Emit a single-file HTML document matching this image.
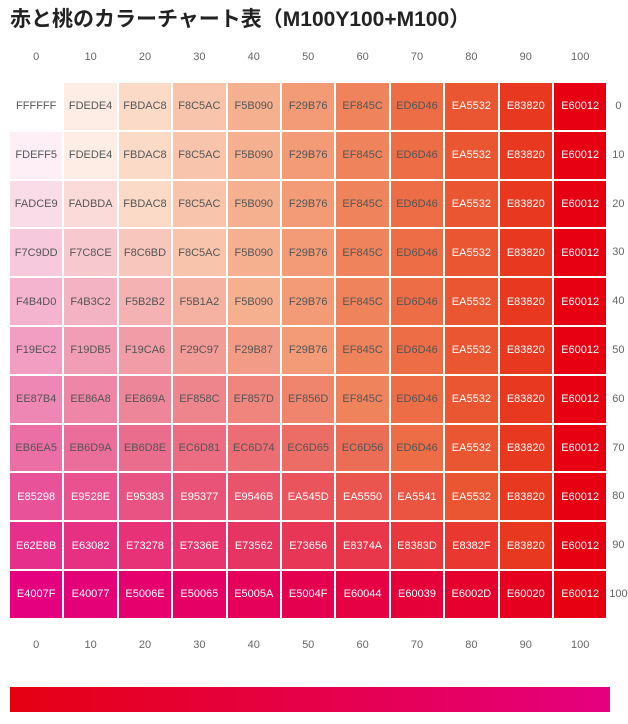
<!DOCTYPE html><html><head><meta charset="utf-8"><style>
body{margin:0;width:628px;height:724px;background:#fff;font-family:"Liberation Sans","Noto Sans CJK JP",sans-serif;position:relative;overflow:hidden}
h1{position:absolute;left:10px;top:3px;margin:0;font-size:21px;font-weight:bold;color:#222;white-space:nowrap}
.c{position:absolute;width:54.4px;height:48.8px;box-sizing:border-box;border:1px solid #fff;display:flex;align-items:center;justify-content:center;font-size:11px}
.l{position:absolute;font-size:11px;color:#666;text-align:center;width:54.4px}
.bar{position:absolute;left:10px;top:687px;width:600px;height:25px;background:linear-gradient(to right,#E60012,#E5007F)}
</style></head><body>
<h1>赤と桃のカラーチャート表（M100Y100+M100）</h1>
<div id="g"></div>
<div class="bar"></div>
<script>
var d=[
"FFFFFF FDEDE4 FBDAC8 F8C5AC F5B090 F29B76 EF845C ED6D46 EA5532 E83820 E60012",
"FDEFF5 FDEDE4 FBDAC8 F8C5AC F5B090 F29B76 EF845C ED6D46 EA5532 E83820 E60012",
"FADCE9 FADBDA FBDAC8 F8C5AC F5B090 F29B76 EF845C ED6D46 EA5532 E83820 E60012",
"F7C9DD F7C8CE F8C6BD F8C5AC F5B090 F29B76 EF845C ED6D46 EA5532 E83820 E60012",
"F4B4D0 F4B3C2 F5B2B2 F5B1A2 F5B090 F29B76 EF845C ED6D46 EA5532 E83820 E60012",
"F19EC2 F19DB5 F19CA6 F29C97 F29B87 F29B76 EF845C ED6D46 EA5532 E83820 E60012",
"EE87B4 EE86A8 EE869A EF858C EF857D EF856D EF845C ED6D46 EA5532 E83820 E60012",
"EB6EA5 EB6D9A EB6D8E EC6D81 EC6D74 EC6D65 EC6D56 ED6D46 EA5532 E83820 E60012",
"E85298 E9528E E95383 E95377 E9546B EA545D EA5550 EA5541 EA5532 E83820 E60012",
"E62E8B E63082 E73278 E7336E E73562 E73656 E8374A E8383D E8382F E83820 E60012",
"E4007F E40077 E5006E E50065 E5005A E5004F E60044 E60039 E6002D E60020 E60012"];
var h="",X=9,Y=82,W=54.4,H=48.8;
for(var j=0;j<11;j++){h+='<div class="l" style="left:'+(X+j*W)+'px;top:51px">'+j*10+'</div><div class="l" style="left:'+(X+j*W)+'px;top:639px">'+j*10+'</div>';}
for(var i=0;i<11;i++){var r=d[i].split(" ");h+='<div class="l" style="left:'+(X+11*W-13)+'px;width:48px;top:'+(Y+i*H+18)+'px">'+i*10+'</div>';
for(var j=0;j<11;j++){var w=(j>=8||i>=8);h+='<div class="c" style="left:'+(X+j*W)+'px;top:'+(Y+i*H)+'px;background:#'+r[j]+';color:'+(w?'#fff':'#555')+'">'+r[j]+'</div>';}}
document.getElementById("g").innerHTML=h;
</script></body></html>
